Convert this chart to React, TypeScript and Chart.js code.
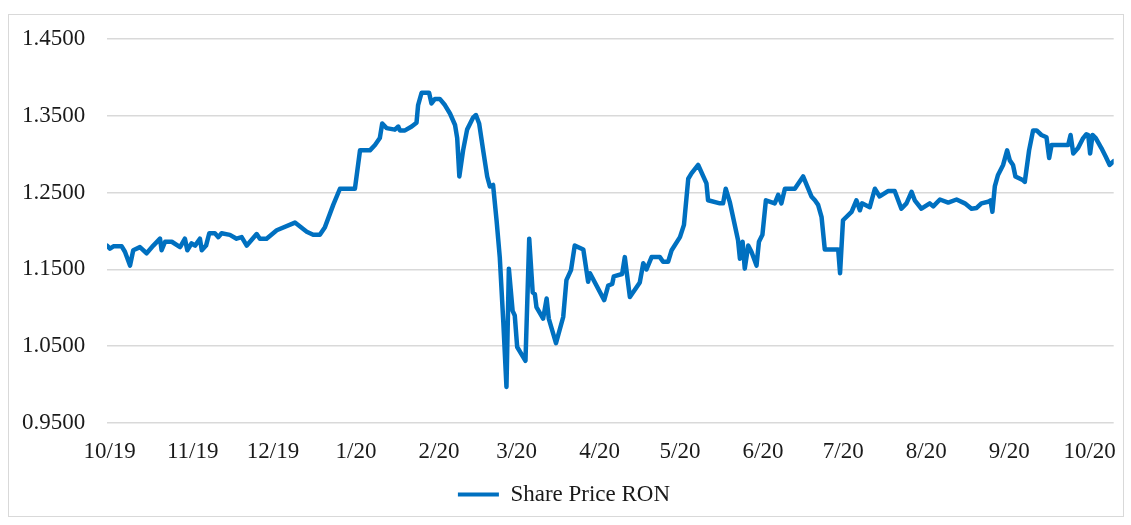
import React, { useEffect, useRef } from 'react';
import { Chart, registerables } from 'chart.js';

Chart.register(...registerables);

// Day offsets from 1 Oct 2019 (x) and share price in RON (y)
const tradingDays = [
  -1, 0.1, 1.4, 4.5, 5.7, 7.6, 8.8, 11.3, 13.8, 16.3,
  18.8, 19.4, 20.7, 23.2, 26.3, 28.1, 29.0, 30.6, 31.9, 33.7,
  34.4, 36.0, 37.2, 39.3, 40.6, 41.8, 44.9, 47.4, 49.3, 51.2,
  54.9, 56.1, 58.6, 62.4, 69.2, 73.6, 76.0, 78.5, 80.4, 83.5,
  86.0, 91.6, 93.5, 97.2, 99.1, 100.9, 101.8, 103.4, 106.5, 107.8,
  108.4, 110.3, 112.8, 114.6, 115.2, 116.5, 119.3, 120.2, 121.5, 123.3,
  125.2, 127.1, 129.0, 129.8, 130.6, 132.0, 133.5, 135.8, 136.8, 138.0,
  139.5, 141.0, 142.0, 143.2, 144.5, 145.7, 147.0, 148.2, 149.1, 150.5,
  151.3, 152.2, 155.3, 156.7, 158.0, 158.8, 159.4, 161.9, 163.2, 164.0,
  166.7, 169.4, 170.6, 172.3, 173.7, 176.9, 178.7, 179.4, 184.7, 186.2,
  187.7, 188.3, 191.4, 192.4, 194.3, 198.0, 199.3, 200.5, 202.4, 205.5,
  206.7, 208.6, 209.9, 213.0, 214.5, 216.1, 217.3, 219.8, 222.9, 223.5,
  227.9, 229.1, 230.1, 231.6, 234.7, 235.4, 236.4, 237.2, 238.5, 239.7,
  241.6, 242.5, 243.8, 245.1, 248.4, 249.7, 250.9, 252.2, 255.9, 259.0,
  262.1, 263.4, 264.6, 265.9, 267.1, 272.1, 272.8, 273.9, 277.1, 278.9,
  280.2, 281.0, 283.9, 285.8, 287.6, 290.7, 293.2, 295.7, 297.6, 299.5,
  300.7, 303.2, 306.3, 307.6, 310.1, 313.2, 316.3, 319.4, 321.9, 323.8,
  325.6, 328.1, 329.0, 329.7, 330.6, 331.8, 333.7, 335.2, 336.2, 337.4,
  338.3, 341.2, 341.8, 343.4, 344.9, 346.2, 348.0, 349.9, 350.9, 351.8,
  358.0, 358.9, 359.9, 361.7, 363.6, 364.8, 365.5, 366.2, 367.1, 368.3,
  370.4, 372.0, 373.5, 375.0,
];

const sharePrice = [
  1.181, 1.177, 1.180, 1.180, 1.173, 1.155, 1.175, 1.179, 1.171, 1.181,
  1.190, 1.175, 1.186, 1.186, 1.179, 1.190, 1.175, 1.184, 1.181, 1.190,
  1.175, 1.181, 1.197, 1.197, 1.192, 1.197, 1.195, 1.190, 1.192, 1.181,
  1.196, 1.190, 1.190, 1.201, 1.211, 1.199, 1.195, 1.195, 1.205, 1.234,
  1.255, 1.255, 1.305, 1.305, 1.312, 1.321, 1.340, 1.334, 1.332, 1.336,
  1.331, 1.331, 1.336, 1.341, 1.364, 1.380, 1.380, 1.366, 1.372, 1.372,
  1.364, 1.353, 1.338, 1.321, 1.271, 1.305, 1.332, 1.348, 1.351, 1.340,
  1.305, 1.271, 1.258, 1.260, 1.214, 1.166, 1.083, 0.997, 1.151, 1.096,
  1.090, 1.049, 1.031, 1.190, 1.120, 1.118, 1.101, 1.086, 1.112, 1.086,
  1.054, 1.088, 1.136, 1.149, 1.181, 1.176, 1.134, 1.145, 1.110, 1.129,
  1.131, 1.141, 1.144, 1.166, 1.114, 1.133, 1.158, 1.150, 1.166, 1.166,
  1.160, 1.160, 1.175, 1.192, 1.208, 1.268, 1.275, 1.286, 1.262, 1.240,
  1.236, 1.236, 1.255, 1.238, 1.188, 1.164, 1.186, 1.151, 1.181, 1.173,
  1.155, 1.186, 1.195, 1.240, 1.236, 1.247, 1.236, 1.255, 1.255, 1.271,
  1.245, 1.240, 1.234, 1.218, 1.176, 1.176, 1.145, 1.214, 1.225, 1.240,
  1.227, 1.236, 1.231, 1.255, 1.245, 1.252, 1.252, 1.229, 1.236, 1.251,
  1.240, 1.229, 1.236, 1.232, 1.241, 1.237, 1.241, 1.236, 1.229, 1.230,
  1.236, 1.238, 1.240, 1.225, 1.258, 1.273, 1.286, 1.305, 1.292, 1.286,
  1.271, 1.266, 1.264, 1.305, 1.331, 1.331, 1.325, 1.322, 1.295, 1.312,
  1.312, 1.325, 1.301, 1.308, 1.321, 1.326, 1.325, 1.301, 1.325, 1.321,
  1.308, 1.297, 1.286, 1.291,
];

// Month starts (day offsets from 1 Oct 2019) and their labels
const monthTicks = [0, 31, 61, 92, 123, 152, 183, 213, 244, 274, 305, 336, 366];
const monthLabels = ['10/19', '11/19', '12/19', '1/20', '2/20', '3/20', '4/20', '5/20', '6/20', '7/20', '8/20', '9/20', '10/20'];
const yTicks = [0.95, 1.05, 1.15, 1.25, 1.35, 1.45];
const seriesName = 'Share Price RON';

const legendShift = {
  id: 'legendShift',
  afterLayout(chart: any) {
    const l = chart.legend;
    if (l) {
      l.left -= 4;
      l.right -= 4;
    }
  },
};

export default function App() {
  const ref = useRef<HTMLCanvasElement>(null);

  useEffect(() => {
    const font = { family: "'Liberation Serif', 'Times New Roman', serif", size: 23 };
    const textColor = '#1a1a1a';
    const chart = new Chart(ref.current as HTMLCanvasElement, {
      type: 'line',
      data: {
        datasets: [
          {
            label: seriesName,
            data: tradingDays.map((d, i) => ({ x: d, y: sharePrice[i] })),
            borderColor: '#0070C0',
            backgroundColor: '#0070C0',
            borderWidth: 4.5,
            pointRadius: 0,
            tension: 0,
            borderJoinStyle: 'round',
            borderCapStyle: 'round',
          },
        ],
      },
      plugins: [legendShift],
      options: {
        responsive: false,
        animation: false,
        layout: { padding: { top: 24, right: 9, left: 13, bottom: 0 } },
        plugins: {
          legend: {
            position: 'bottom',
            labels: {
              font,
              color: textColor,
              boxWidth: 41,
              boxHeight: 4,
              padding: 10,
              generateLabels: (c: any) =>
                (Chart.defaults.plugins.legend.labels as any)
                  .generateLabels(c)
                  .map((l: any) => ({ ...l, lineWidth: 0, fillStyle: '#0070C0' })),
            },
          },
          tooltip: { enabled: false },
        },
        scales: {
          x: {
            type: 'linear',
            min: -1,
            max: 375,
            afterBuildTicks: (s: any) => {
              s.ticks = monthTicks.map((v) => ({ value: v }));
            },
            afterFit: (s: any) => {
              s.height = 50;
            },
            ticks: {
              callback: (_v: any, i: number) => monthLabels[i],
              font,
              color: textColor,
              padding: 7,
              maxRotation: 0,
              autoSkip: false,
            },
            grid: { display: false },
            border: { display: false },
          },
          y: {
            min: 0.95,
            max: 1.45,
            afterBuildTicks: (s: any) => {
              s.ticks = yTicks.map((v) => ({ value: v }));
            },
            afterFit: (s: any) => {
              s.width = 85;
            },
            ticks: {
              callback: (v: any) => Number(v).toFixed(4),
              font,
              color: textColor,
              padding: 0,
              crossAlign: 'far',
            },
            grid: { color: '#d9d9d9', lineWidth: 1.5, drawTicks: false },
            border: { display: false },
          },
        },
      },
    } as any);
    return () => chart.destroy();
  }, []);

  return (
    <div
      style={{
        position: 'absolute',
        left: 8,
        top: 14,
        width: 1116,
        height: 503,
        border: '1px solid #d9d9d9',
        boxSizing: 'border-box',
      }}
    >
      <canvas ref={ref} width={1114} height={501} style={{ display: 'block' }} />
    </div>
  );
}
